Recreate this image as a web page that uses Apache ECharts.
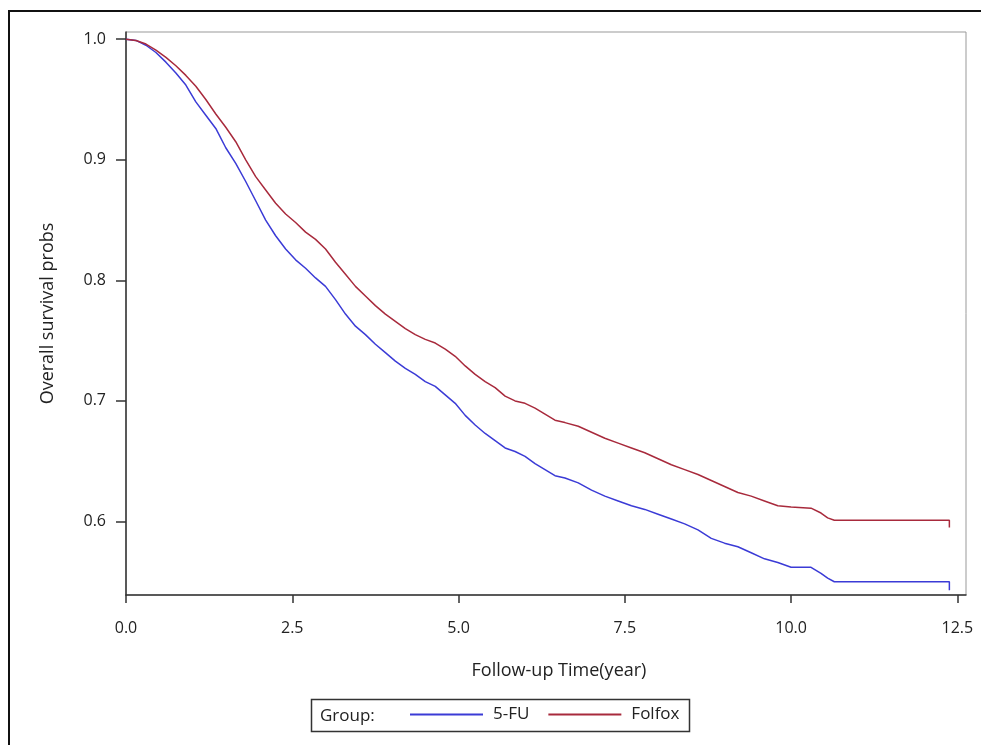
<!DOCTYPE html>
<html lang="en">
<head>
  <meta charset="UTF-8">
  <title>Overall survival</title>
  <style>
    html, body { margin: 0; padding: 0; background: #fff; }
    #chart { width: 981px; height: 745px; }
  </style>
</head>
<body>
  <div id="chart"></div>
  <script src="https://cdn.jsdelivr.net/npm/echarts@6/dist/echarts.min.js"></script>
  <script>
    // Kaplan-Meier estimates (time in years, survival prob)
    var fuTime = [0, 0.15, 0.3, 0.45, 0.6, 0.75, 0.9, 1.05, 1.2, 1.35, 1.5, 1.65, 1.8, 1.95, 2.1, 2.25, 2.4, 2.55, 2.7, 2.85,
      3.0, 3.15, 3.3, 3.45, 3.6, 3.75, 3.9, 4.05, 4.2, 4.35, 4.5, 4.65, 4.8, 4.95, 5.1, 5.25, 5.4, 5.55, 5.7, 5.85,
      6.0, 6.15, 6.3, 6.45, 6.6, 6.8, 7.0, 7.2, 7.4, 7.6, 7.8, 8.0, 8.2, 8.4, 8.6, 8.8, 9.0, 9.2, 9.4, 9.6,
      9.8, 10.0, 10.3, 10.45, 10.55, 10.65, 12.38, 12.38];
    var fuSurv = [1.000, 0.999, 0.995, 0.989, 0.981, 0.972, 0.962, 0.948, 0.937, 0.926, 0.910, 0.897, 0.882, 0.866, 0.850, 0.837, 0.826, 0.817, 0.810, 0.802,
      0.795, 0.784, 0.772, 0.762, 0.755, 0.747, 0.740, 0.733, 0.727, 0.722, 0.716, 0.712, 0.705, 0.698, 0.688, 0.680, 0.673, 0.667, 0.661, 0.658,
      0.654, 0.648, 0.643, 0.638, 0.636, 0.632, 0.626, 0.621, 0.617, 0.613, 0.610, 0.606, 0.602, 0.598, 0.593, 0.586, 0.582, 0.579, 0.574, 0.569,
      0.566, 0.562, 0.562, 0.557, 0.553, 0.550, 0.550, 0.543];

    var folTime = [0, 0.15, 0.3, 0.45, 0.6, 0.75, 0.9, 1.05, 1.2, 1.35, 1.5, 1.65, 1.8, 1.95, 2.1, 2.25, 2.4, 2.55, 2.7, 2.85,
      3.0, 3.15, 3.3, 3.45, 3.6, 3.75, 3.9, 4.05, 4.2, 4.35, 4.5, 4.65, 4.8, 4.95, 5.1, 5.25, 5.4, 5.55, 5.7, 5.85,
      6.0, 6.15, 6.3, 6.45, 6.6, 6.8, 7.0, 7.2, 7.4, 7.6, 7.8, 8.0, 8.2, 8.4, 8.6, 8.8, 9.0, 9.2, 9.4, 9.6,
      9.8, 10.0, 10.3, 10.45, 10.55, 10.65, 12.38, 12.38];
    var folSurv = [1.000, 0.999, 0.996, 0.991, 0.985, 0.978, 0.970, 0.961, 0.950, 0.938, 0.927, 0.915, 0.900, 0.886, 0.875, 0.864, 0.855, 0.848, 0.840, 0.834,
      0.826, 0.815, 0.805, 0.795, 0.787, 0.779, 0.772, 0.766, 0.760, 0.755, 0.751, 0.748, 0.743, 0.737, 0.729, 0.722, 0.716, 0.711, 0.704, 0.700,
      0.698, 0.694, 0.689, 0.684, 0.682, 0.679, 0.674, 0.669, 0.665, 0.661, 0.657, 0.652, 0.647, 0.643, 0.639, 0.634, 0.629, 0.624, 0.621, 0.617,
      0.613, 0.612, 0.611, 0.607, 0.603, 0.601, 0.601, 0.595];

    var groups = ['5-FU', 'Folfox'];
    var xTicks = [0, 2.5, 5, 7.5, 10, 12.5];
    var yTicks = [0.6, 0.7, 0.8, 0.9, 1.0];

    function zip(a, b) {
      var out = [];
      for (var i = 0; i < a.length; i++) out.push([a[i], b[i]]);
      return out;
    }

    var font = '"Open Sans", "Noto Sans", sans-serif';
    var chart = echarts.init(document.getElementById('chart'));

    chart.setOption({
      animation: false,
      backgroundColor: '#fff',
      textStyle: { fontFamily: font },
      grid: {
        show: true,
        left: 126, right: 15, top: 32, bottom: 150,
        borderColor: '#999', borderWidth: 1
      },
      xAxis: {
        type: 'value',
        min: 0, max: 12.63,
        name: 'Follow-up Time(year)',
        nameLocation: 'middle',
        nameGap: 67,
        nameTextStyle: { fontSize: 18, color: '#222', padding: [0, 0, 0, 26] },
        axisLine: { onZero: false, lineStyle: { color: '#333', width: 1.5 } },
        axisTick: { length: 8, customValues: xTicks, lineStyle: { color: '#333', width: 1.5 } },
        axisLabel: {
          customValues: xTicks, margin: 25, fontSize: 16, color: '#222',
          formatter: function (v) { return v.toFixed(1); }
        },
        splitLine: { show: false }
      },
      yAxis: {
        type: 'value',
        min: 0.539, max: 1.006,
        name: 'Overall survival probs',
        nameLocation: 'middle',
        nameRotate: 90,
        nameGap: 69,
        nameTextStyle: { fontSize: 18, color: '#222' },
        axisLine: { onZero: false, lineStyle: { color: '#333', width: 1.5 } },
        axisTick: { length: 10, customValues: yTicks, lineStyle: { color: '#333', width: 1.5 } },
        axisLabel: {
          customValues: yTicks, margin: 20, fontSize: 16, color: '#222',
          formatter: function (v) { return v.toFixed(1); }
        },
        splitLine: { show: false }
      },
      legend: {
        data: groups,
        left: 410, top: 706,
        padding: 0,
        icon: 'rect',
        itemWidth: 73, itemHeight: 2,
        itemGap: 19,
        textStyle: { fontSize: 17, color: '#222', padding: [0, 0, 0, 5] }
      },
      graphic: [
        {
          type: 'rect',
          shape: { x: 9, y: 11, width: 1100, height: 900 },
          style: { fill: 'none', stroke: '#111', lineWidth: 2 },
          silent: true
        },
        {
          type: 'rect',
          shape: { x: 311.5, y: 699.5, width: 378, height: 32 },
          style: { fill: 'none', stroke: '#333', lineWidth: 1.5 },
          silent: true
        },
        {
          type: 'text',
          x: 320, y: 716,
          style: { text: 'Group:', fontSize: 17, fill: '#222', fontFamily: font, verticalAlign: 'middle' },
          silent: true
        }
      ],
      series: [
        {
          name: groups[0],
          type: 'line',
          showSymbol: false,
          color: '#3b3bd6',
          lineStyle: { width: 1.5 },
          data: zip(fuTime, fuSurv)
        },
        {
          name: groups[1],
          type: 'line',
          showSymbol: false,
          color: '#a82a3c',
          lineStyle: { width: 1.5 },
          data: zip(folTime, folSurv)
        }
      ]
    });
  </script>
</body>
</html>
